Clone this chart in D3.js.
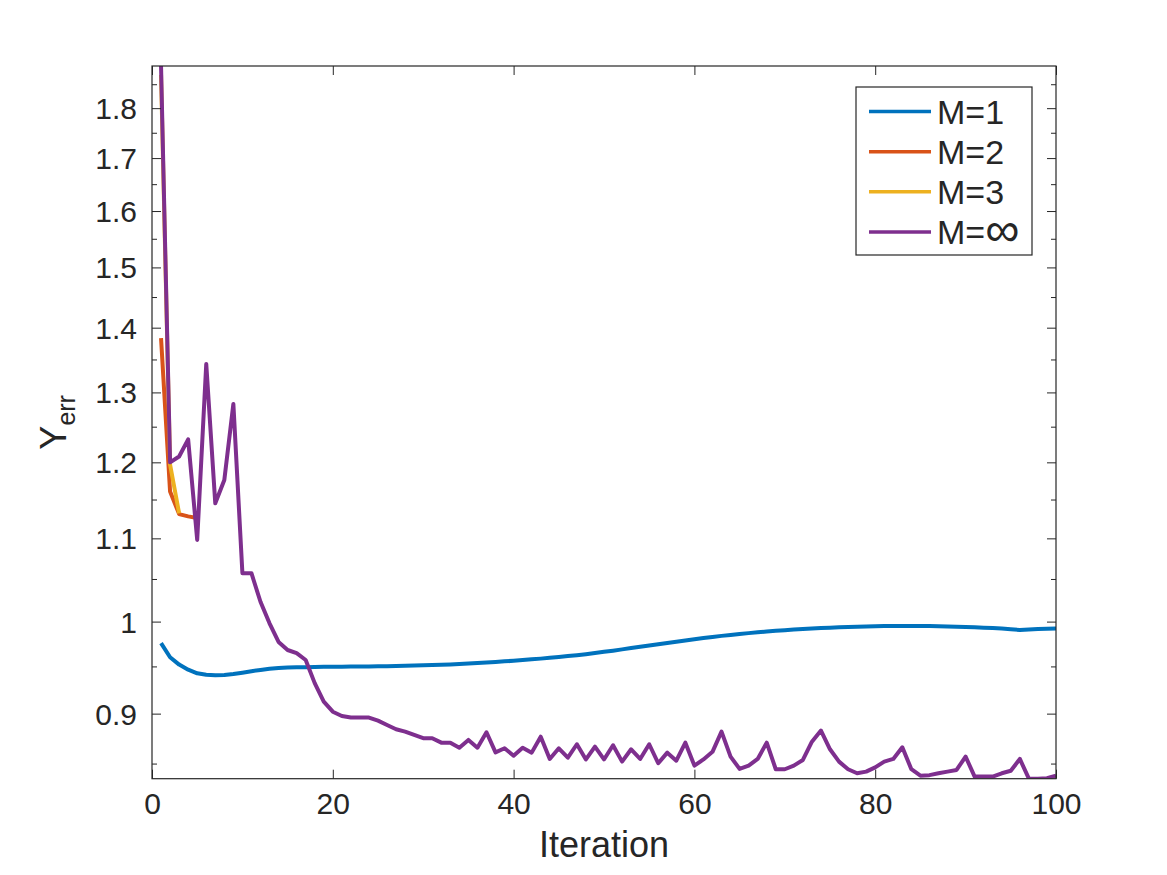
<!DOCTYPE html>
<html>
<head>
<meta charset="utf-8">
<script src="https://cdn.jsdelivr.net/npm/d3@7/dist/d3.min.js"></script>
<style>
  html, body { margin: 0; padding: 0; background: #fff; }
  svg { display: block; }
  text { font-family: "Liberation Sans", Arial, Helvetica, sans-serif; fill: #262626; }
</style>
</head>
<body>
<svg id="chart" width="1167" height="875"></svg>
<script>
// ---------------- data ----------------
const seriesNames = ["M=1", "M=2", "M=3", "M=\u221E"];
const seriesColors = ["#0072BD", "#D95319", "#EDB120", "#7E2F8E"];

const m1 = [0.9756, 0.9600, 0.9520, 0.9465, 0.9425, 0.9410, 0.9405, 0.9408, 0.9418, 0.9432,
            0.9448, 0.9462, 0.9474, 0.9483, 0.9488, 0.9490, 0.9491, 0.9493, 0.9495, 0.9496,
            0.9497, 0.9498, 0.9499, 0.9500, 0.9501, 0.9503, 0.9505, 0.9507, 0.9509, 0.9512,
            0.9515, 0.9518, 0.9522, 0.9527, 0.9532, 0.9537, 0.9543, 0.9549, 0.9555, 0.9562,
            0.9569, 0.9577, 0.9585, 0.9594, 0.9603, 0.9613, 0.9623, 0.9634, 0.9646, 0.9660,
            0.9673, 0.9687, 0.9702, 0.9717, 0.9731, 0.9745, 0.9759, 0.9773, 0.9787, 0.9800,
            0.9813, 0.9826, 0.9838, 0.9849, 0.9859, 0.9869, 0.9878, 0.9887, 0.9895, 0.9902,
            0.9909, 0.9915, 0.9921, 0.9926, 0.9931, 0.9935, 0.9939, 0.9942, 0.9945, 0.9947,
            0.9949, 0.9950, 0.9951, 0.9951, 0.9950, 0.9949, 0.9947, 0.9945, 0.9942, 0.9939,
            0.9935, 0.9931, 0.9926, 0.9920, 0.9913, 0.9905, 0.9910, 0.9915, 0.9918, 0.9920];

const m2 = [1.3835, 1.1605, 1.1310, 1.1280, 1.1260];

const m3 = [1.8700, 1.1970, 1.1320];

const mInf = [1.8890, 1.2000, 1.2080, 1.2320, 1.0980, 1.3430, 1.1450, 1.1760, 1.2830, 1.0570,
              1.0570, 1.0230, 0.9980, 0.9770, 0.9680, 0.9645, 0.9570, 0.9320, 0.9125, 0.9020,
              0.8976, 0.8960, 0.8960, 0.8960, 0.8928, 0.8884, 0.8840, 0.8816, 0.8783, 0.8750,
              0.8750, 0.8706, 0.8706, 0.8656, 0.8733, 0.8656, 0.8810, 0.8610, 0.8650, 0.8577,
              0.8656, 0.8607, 0.8766, 0.8545, 0.8650, 0.8557, 0.8690, 0.8540, 0.8666, 0.8540,
              0.8680, 0.8519, 0.8640, 0.8545, 0.8690, 0.8503, 0.8607, 0.8528, 0.8706, 0.8480,
              0.8540, 0.8615, 0.8816, 0.8568, 0.8448, 0.8480, 0.8545, 0.8706, 0.8445, 0.8445,
              0.8480, 0.8535, 0.8716, 0.8827, 0.8640, 0.8519, 0.8445, 0.8406, 0.8422, 0.8463,
              0.8519, 0.8545, 0.8660, 0.8445, 0.8383, 0.8388, 0.8406, 0.8422, 0.8438, 0.8568,
              0.8374, 0.8374, 0.8374, 0.8406, 0.8430, 0.8545, 0.8354, 0.8354, 0.8358, 0.8382];

const xTicks = [0, 20, 40, 60, 80, 100];
const yTicks = [0.9, 1, 1.1, 1.2, 1.3, 1.4, 1.5, 1.6, 1.7, 1.8];
const yTickLabels = ["0.9", "1", "1.1", "1.2", "1.3", "1.4", "1.5", "1.6", "1.7", "1.8"];
const yMinorTicks = [0.85, 0.95, 1.05, 1.15, 1.25, 1.35, 1.45, 1.55, 1.65, 1.75, 1.85];
const xLabel = "Iteration";

// ---------------- layout ----------------
const L = 152, R = 1056, T = 66, B = 778.7;
const svg = d3.select("#chart");
const allSeries = [m1, m2, m3, mInf];
const allVals = allSeries.flat();

const x = d3.scaleLinear().domain([0, 100]).range([L, R]);
const y = d3.scaleLog().domain(d3.extent(allVals)).range([B, T]);

const axisColor = "#262626";
const majorLen = 9, minorLen = 5;

// clip
svg.append("defs").append("clipPath").attr("id", "clip")
  .append("rect").attr("x", L).attr("y", T).attr("width", R - L).attr("height", B - T);

// lines
const line = d3.line().x((d, i) => x(i + 1)).y(d => y(d));
const gLines = svg.append("g").attr("clip-path", "url(#clip)");
allSeries.forEach((s, k) => {
  gLines.append("path").datum(s)
    .attr("d", line)
    .attr("fill", "none")
    .attr("stroke", seriesColors[k])
    .attr("stroke-width", 4)
    .attr("stroke-linejoin", "round")
    .attr("stroke-linecap", "butt");
});

// axes (box with inward ticks)
const gAx = svg.append("g");
const bottomAxis = d3.axisBottom(x).tickValues(xTicks).tickSize(-majorLen).tickFormat(d3.format("d"));
const gb = gAx.append("g").attr("transform", `translate(0,${B})`).call(bottomAxis);
const topAxis = d3.axisTop(x).tickValues(xTicks).tickSize(-majorLen).tickFormat("");
const gt = gAx.append("g").attr("transform", `translate(0,${T})`).call(topAxis);
const leftAxis = d3.axisLeft(y).tickValues(yTicks).tickSize(-majorLen).tickPadding(15)
  .tickFormat((d, i) => yTickLabels[i]);
const gl = gAx.append("g").attr("transform", `translate(${L},0)`).call(leftAxis);
const leftMinor = d3.axisLeft(y).tickValues(yMinorTicks).tickSize(-minorLen).tickFormat("");
const glm = gAx.append("g").attr("transform", `translate(${L},0)`).call(leftMinor);
const rightAxis = d3.axisRight(y).tickValues(yTicks).tickSize(-majorLen).tickFormat("");
const gr = gAx.append("g").attr("transform", `translate(${R},0)`).call(rightAxis);
const rightMinor = d3.axisRight(y).tickValues(yMinorTicks).tickSize(-minorLen).tickFormat("");
const grm = gAx.append("g").attr("transform", `translate(${R},0)`).call(rightMinor);

[gb, gt, gl, glm, gr, grm].forEach(g => {
  g.select(".domain").remove();
  g.selectAll(".tick line").attr("stroke", axisColor).attr("stroke-width", 1);
  g.selectAll(".tick text").attr("fill", axisColor).style("font-size", "30px")
    .style("font-family", '"Liberation Sans", Arial, Helvetica, sans-serif');
});
gl.selectAll(".tick text").attr("dy", "0.35em");
gb.selectAll(".tick text").attr("dy", "0.71em").attr("y", 14);

// frame
gAx.append("rect").attr("x", L).attr("y", T).attr("width", R - L).attr("height", B - T)
  .attr("fill", "none").attr("stroke", axisColor).attr("stroke-width", 1.2);

// axis labels
svg.append("text").attr("x", (L + R) / 2).attr("y", 857)
  .attr("text-anchor", "middle").style("font-size", "36px").text(xLabel);

const yl = svg.append("text")
  .attr("transform", `translate(66,${(T + B) / 2}) rotate(-90)`)
  .attr("text-anchor", "middle").style("font-size", "36px");
yl.append("tspan").text("Y");
yl.append("tspan").attr("dy", 9).style("font-size", "25px").text("err");

// legend
const lg = svg.append("g");
lg.append("rect").attr("x", 856).attr("y", 87).attr("width", 176).attr("height", 168)
  .attr("fill", "#fff").attr("stroke", axisColor).attr("stroke-width", 1.2);
const legY = d3.scalePoint().domain(seriesNames).range([111.5, 232]);
seriesNames.forEach((n, k) => {
  lg.append("line").attr("x1", 869).attr("x2", 931)
    .attr("y1", legY(n)).attr("y2", legY(n))
    .attr("stroke", seriesColors[k]).attr("stroke-width", 3.5);
  const t = lg.append("text").attr("x", 937).attr("y", legY(n) + 12)
    .style("font-size", "34px");
  if (n.endsWith("\u221E")) {
    t.append("tspan").text(n.slice(0, -1));
    t.append("tspan").style("font-family", '"DejaVu Sans", sans-serif')
      .style("font-weight", "200").style("font-size", "48px").attr("dy", 2).text("\u221E");
  } else {
    t.text(n);
  }
});
</script>
</body>
</html>
